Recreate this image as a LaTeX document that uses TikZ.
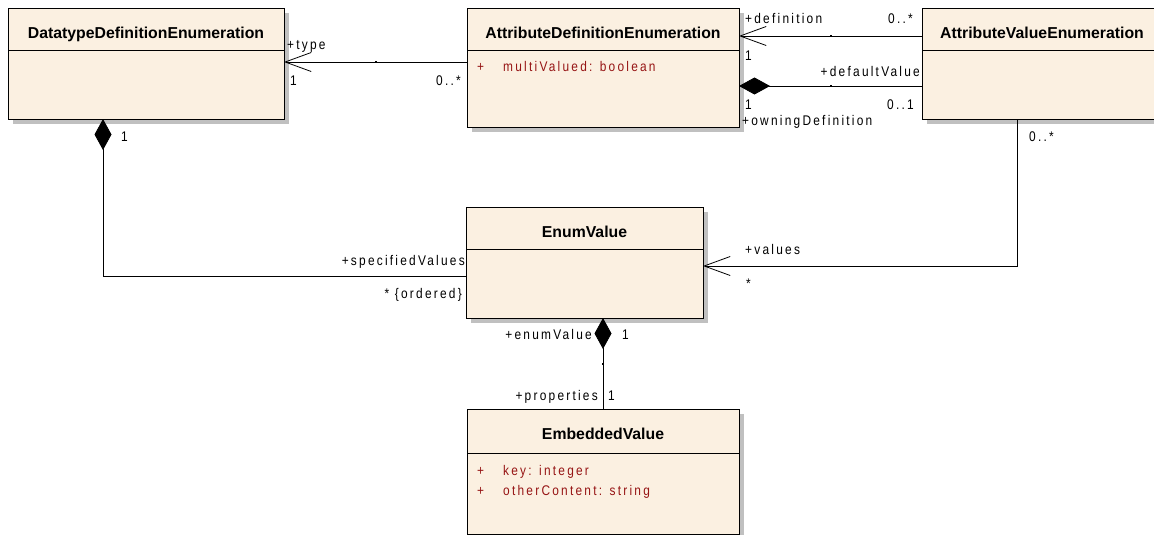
\documentclass[tikz,border=0pt]{standalone}
\usepackage{fontspec}
\setmainfont{Liberation Sans}
\newfontfamily\lblfont[LetterSpace=16,FakeStretch=0.85]{Liberation Sans}
\usetikzlibrary{arrows.meta,shadows,calc}
\definecolor{clsfill}{RGB}{251,240,225}
\definecolor{attrred}{RGB}{150,20,20}
\definecolor{shadowgray}{RGB}{192,192,192}
\begin{document}
\begin{tikzpicture}[x=1pt,y=-1pt,
  cls/.style={draw=black, fill=clsfill, line width=0.8pt, anchor=north west, inner sep=0pt, outer sep=0pt,
    drop shadow={shadow xshift=5pt, shadow yshift=-5pt, fill=shadowgray, opacity=1}},
  ctitle/.style={anchor=base, inner sep=0pt, font=\fontsize{15.8}{18}\selectfont\bfseries},
  lbl/.style={inner sep=0pt, font=\fontsize{14}{16}\lblfont},
  attr/.style={lbl, text=attrred, anchor=base west},
  link/.style={draw=black, line width=0.8pt},
  divider/.style={draw=black, line width=0.8pt},
  open/.style={-{Straight Barb[length=26pt,width=19pt,line width=0.8pt]}},
  comp/.style={{Diamond[length=31pt,width=17pt,fill=black]}-},
  mid/.style={fill=black, inner sep=0pt, minimum size=2pt, shape=rectangle}
]
\fill[white] (0,0) rectangle (1154,535);
\useasboundingbox (0,0) rectangle (1154,535);

% classes
\node[cls, minimum width=276pt, minimum height=111pt] (dde) at (8,8) {};
\node[cls, minimum width=272pt, minimum height=119pt] (ade) at (467,8) {};
\node[cls, minimum width=240pt, minimum height=111pt] (ave) at (922,8) {};
\node[cls, minimum width=237pt, minimum height=111pt] (ev) at (466,207) {};
\node[cls, minimum width=272pt, minimum height=125pt] (emb) at (467,409) {};

\foreach \n in {dde,ade,ave,ev}{
  \draw[divider] ([yshift=-42pt]\n.north west) -- ([yshift=-42pt]\n.north east);
}
\draw[divider] ([yshift=-44pt]emb.north west) -- ([yshift=-44pt]emb.north east);

\node[ctitle] (ddeT) at ([yshift=-30.5pt]dde.north) {DatatypeDefinitionEnumeration};
\node[ctitle] (adeT) at ([yshift=-30.5pt]ade.north) {AttributeDefinitionEnumeration};
\node[ctitle] (aveT) at ([yshift=-30.5pt]ave.north) {AttributeValueEnumeration};
\node[ctitle] (evT) at ([yshift=-30.5pt]ev.north) {EnumValue};
\node[ctitle] (embT) at ([yshift=-30.5pt]emb.north) {EmbeddedValue};

% attributes
\node[attr] (adeA1p) at ([xshift=10pt,yshift=-63.5pt]ade.north west) {+};
\node[attr] (adeA1) at ([xshift=36pt,yshift=-63.5pt]ade.north west) {multiValued: boolean};
\node[attr] (embA1p) at ([xshift=10pt,yshift=-66pt]emb.north west) {+};
\node[attr] (embA1) at ([xshift=36pt,yshift=-66pt]emb.north west) {key: integer};
\node[attr] (embA2p) at ([xshift=10pt,yshift=-86.5pt]emb.north west) {+};
\node[attr] (embA2) at ([xshift=36pt,yshift=-86.5pt]emb.north west) {otherContent: string};

% connectors
\draw[link, open] ([yshift=-54pt]ade.north west) -- node[mid]{} ([yshift=-54pt]dde.north east);
\draw[link, open] ([yshift=-28pt]ave.north west) -- node[mid]{} ([yshift=-28pt]ade.north east);
\draw[link, comp] ([yshift=-78pt]ade.north east) -- node[mid]{} ([yshift=-78pt]ave.north west);
\draw[link, open] ([xshift=-25pt]ave.south) |- ([yshift=-59pt]ev.north east);
\draw[link, comp] ([xshift=-43pt]dde.south) |- ([yshift=-69pt]ev.north west);
\draw[link, comp] (ev.south -| emb.north) -- node[mid]{} (emb.north);

% role / multiplicity labels
\node[lbl, anchor=base west] (lType) at (287,50) {+type};
\node[lbl, anchor=base west] (lType1) at (290,85) {1};
\node[lbl, anchor=base east] (lTypeM) at (461,85) {0..*};
\node[lbl, anchor=base west] (lDef) at (745,24) {+definition};
\node[lbl, anchor=base east] (lDefM) at (913,24) {0..*};
\node[lbl, anchor=base west] (lDef1) at (745,60) {1};
\node[lbl, anchor=base east] (lDV) at (920,77) {+defaultValue};
\node[lbl, anchor=base west] (lOwn1) at (745,110) {1};
\node[lbl, anchor=base east] (lDVM) at (914,110) {0..1};
\node[lbl, anchor=base west] (lOwn) at (742,125) {+owningDefinition};
\node[lbl, anchor=base west] (lValM) at (1029,141) {0..*};
\node[lbl, anchor=base west] (lSpec1) at (121,141) {1};
\node[lbl, anchor=base east] (lSpec) at (465,265) {+specifiedValues};
\node[lbl, anchor=base east] (lSpecM) at (462,298) {* \{ordered\}};
\node[lbl, anchor=base west] (lVal) at (745,254) {+values};
\node[lbl, anchor=base west] (lValS) at (746,288) {*};
\node[lbl, anchor=base east] (lEnum) at (592,339) {+enumValue};
\node[lbl, anchor=base west] (lEnum1) at (622,339) {1};
\node[lbl, anchor=base east] (lProp) at (598,400) {+properties};
\node[lbl, anchor=base west] (lProp1) at (608,400) {1};
\end{tikzpicture}
\end{document}
